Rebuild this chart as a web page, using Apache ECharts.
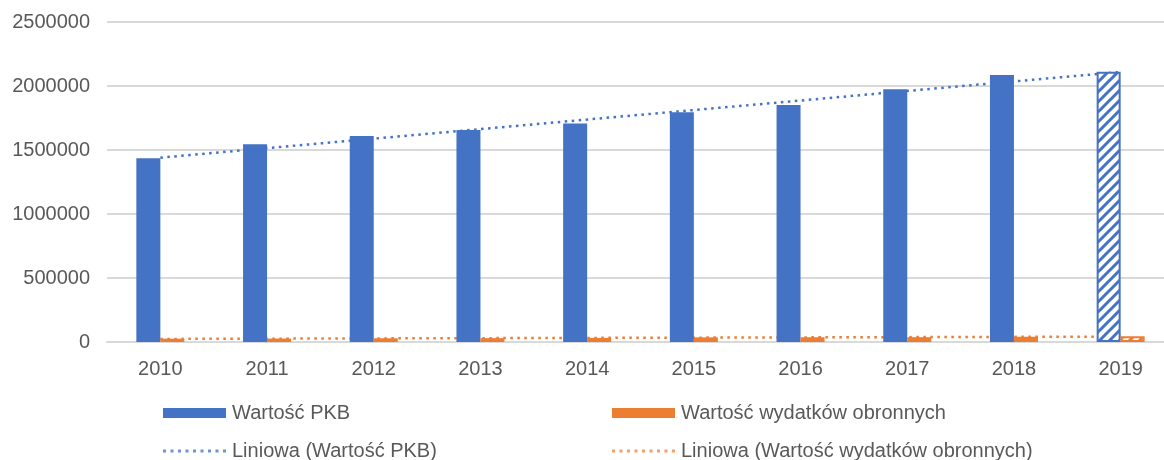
<!DOCTYPE html>
<html>
<head>
<meta charset="utf-8">
<script src="https://cdn.jsdelivr.net/npm/echarts@6/dist/echarts.min.js"></script>
<style>
  html, body { margin: 0; padding: 0; background: #fff; }
  #chart { width: 1164px; height: 460px; }
</style>
</head>
<body>
<div id="chart"></div>
<script>
var years = ['2010', '2011', '2012', '2013', '2014', '2015', '2016', '2017', '2018', '2019'];
var pkb = [1435000, 1544000, 1609000, 1656000, 1708000, 1794000, 1851000, 1974000, 2086000, 2112000];
var obrona = [26000, 27000, 29000, 30000, 32000, 36000, 37000, 37500, 41000, 45000];
// trend lines: only the two ends, joined straight
var trendPkb = [1440000, null, null, null, null, null, null, null, null, 2110000];
var trendObrona = [24000, null, null, null, null, null, null, null, null, 42000];
var yTicks = [0, 500000, 1000000, 1500000, 2000000, 2500000];

var blue = '#4472C4';
var orange = '#ED7D31';
var grey = '#595959';
var rule = '#D9D9D9';
var font = '"Liberation Sans", Arial, sans-serif';

// diagonal hatch for the 2019 (forecast) bars
function hatch(color) {
  var s = 10;
  var c = document.createElement('canvas');
  c.width = s; c.height = s;
  var g = c.getContext('2d');
  g.fillStyle = '#fff';
  g.fillRect(0, 0, s, s);
  g.strokeStyle = color;
  g.lineWidth = 3;
  g.beginPath();
  g.moveTo(-2, s + 2); g.lineTo(s + 2, -2);
  g.moveTo(-2, 2); g.lineTo(2, -2);
  g.moveTo(s - 2, s + 2); g.lineTo(s + 2, s - 2);
  g.stroke();
  return { image: c, repeat: 'repeat' };
}

function withForecast(values, color) {
  return values.map(function(v, i) {
    if (i < values.length - 1) return v;
    return {
      value: v,
      itemStyle: { color: hatch(color), borderColor: color, borderWidth: 2 }
    };
  });
}

// dotted-line legend icon: 9 small squares
var dots = '';
for (var k = 0; k < 9; k++) {
  dots += 'M' + (k * 7.5) + ' 0h3v3h-3Z';
}
var dotIcon = 'path://' + dots;

function legendAt(left, top, name, icon, color, h) {
  return {
    left: left,
    top: top,
    itemWidth: 63,
    itemHeight: h,
    itemGap: 0,
    textStyle: { color: grey, fontSize: 20, fontFamily: font, padding: [0, 0, 0, 1] },
    data: [{ name: name, icon: icon, itemStyle: { color: color, opacity: 1 } }]
  };
}

var chart = echarts.init(document.getElementById('chart'), null, { renderer: 'canvas' });
chart.setOption({
  animation: false,
  textStyle: { fontFamily: font },
  grid: {
    left: 107, width: 1067, top: 22, bottom: 118,
    containLabel: false, outerBoundsMode: 'none'
  },
  xAxis: {
    type: 'category',
    data: years,
    axisTick: { show: false },
    axisLine: { lineStyle: { color: rule, width: 2 } },
    axisLabel: { color: grey, fontSize: 20, margin: 17, fontFamily: font }
  },
  yAxis: {
    type: 'value',
    min: yTicks[0],
    max: yTicks[yTicks.length - 1],
    interval: 500000,
    axisLine: { show: false },
    axisTick: { show: false },
    splitLine: { lineStyle: { color: rule, width: 2 } },
    axisLabel: {
      color: grey, fontSize: 20, margin: 17, fontFamily: font,
      formatter: function(v) { return String(v); }
    }
  },
  legend: [
    legendAt(158, 398, 'Wartość PKB', 'rect', blue, 10),
    legendAt(158, 436, 'Liniowa (Wartość PKB)', dotIcon, '#6f93d6', 3),
    legendAt(607, 398, 'Wartość wydatków obronnych', 'rect', orange, 10),
    legendAt(607, 436, 'Liniowa (Wartość wydatków obronnych)', dotIcon, '#f2a06a', 3)
  ],
  series: [
    {
      name: 'Liniowa (Wartość PKB)',
      type: 'line',
      z: 1,
      data: trendPkb,
      connectNulls: true,
      showSymbol: false,
      symbol: 'none',
      itemStyle: { color: blue },
      lineStyle: { color: blue, width: 2.5, type: [2.5, 4.5] }
    },
    {
      name: 'Liniowa (Wartość wydatków obronnych)',
      type: 'line',
      z: 1,
      data: trendObrona,
      connectNulls: true,
      showSymbol: false,
      symbol: 'none',
      itemStyle: { color: orange },
      lineStyle: { color: orange, width: 2.5, type: [2.5, 4.5] }
    },
    {
      name: 'Wartość PKB',
      type: 'bar',
      z: 3,
      barWidth: 24,
      barGap: '0%',
      itemStyle: { color: blue },
      data: withForecast(pkb, blue)
    },
    {
      name: 'Wartość wydatków obronnych',
      type: 'bar',
      z: 3,
      barWidth: 24,
      barGap: '0%',
      itemStyle: { color: orange },
      data: withForecast(obrona, orange)
    }
  ]
});
window.addEventListener('resize', function() { chart.resize(); });
</script>
</body>
</html>
